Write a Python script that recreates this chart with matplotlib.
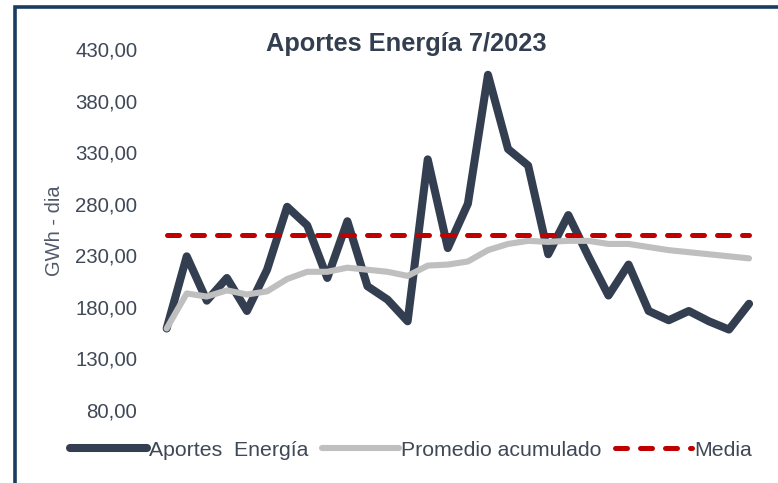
import numpy as np
import matplotlib
matplotlib.use("Agg")
import matplotlib.pyplot as plt
from matplotlib.patches import Rectangle

plt.rcParams['font.family'] = ['Liberation Sans', 'DejaVu Sans']

# daily values, July 2023 (GWh - dia)
aportes = [159, 229, 186, 208, 176, 216, 277, 259, 208, 263,
           200, 187, 166, 323, 237, 280, 405, 333, 317, 231,
           269, 229, 191, 221, 176, 167, 176, 166, 158, 183]
promedio = [159, 193, 190, 196, 192, 195, 207, 214, 214, 218,
            216, 214, 210, 220, 221, 224, 235, 241, 244, 243,
            244, 244, 241, 241, 238, 235, 233, 231, 229, 227]
media = 250
yticks = [80, 130, 180, 230, 280, 330, 380, 430]

W, H = 778, 483
fig = plt.figure(figsize=(W / 100, H / 100), dpi=100)
ax = fig.add_axes([156.6 / W, 1 - 410 / H, (759.1 - 156.6) / W, (410 - 49) / H])

x = np.arange(len(aportes))
txt = '#3E4857'

l1, = ax.plot(x, aportes, color='#333F50', lw=5.8, solid_joinstyle='round',
              solid_capstyle='round', label='Aportes  Energía', zorder=2)
l2, = ax.plot(x, promedio, color='#BFBFBF', lw=4.4, solid_joinstyle='round',
              solid_capstyle='round', label='Promedio acumulado', zorder=3)
l3, = ax.plot(x, [media] * len(x), color='#C00000', lw=3.6, dashes=(2.4, 2.6),
              dash_capstyle='round', label='Media', zorder=4)

ax.set_xlim(-0.5, len(x) - 0.5)
ax.set_ylim(80, 430)
ax.set_yticks(yticks)
ax.set_yticklabels([f'{v:.2f}'.replace('.', ',') for v in yticks],
                   fontsize=14.7, color=txt)
ax.tick_params(axis='y', length=0, pad=14)
ax.set_xticks([])
for s in ax.spines.values():
    s.set_visible(False)

fig.text(54 / W, 1 - 231 / H, 'GWh - dia', rotation=90, ha='center', va='center',
         fontsize=14.5, color='#505A68')
fig.text(406 / W, 1 - 44 / H, 'Aportes Energía 7/2023', ha='center', va='center',
         fontsize=18.3, fontweight='bold', color='#333F50')

leg = fig.legend(handles=[l1, l2, l3], loc='center', bbox_to_anchor=(411 / W, 1 - 450 / H),
                 ncol=3, frameon=False, fontsize=15.3, handlelength=3.6,
                 handletextpad=0.1, columnspacing=0.65, borderpad=0, borderaxespad=0)
for t in leg.get_texts():
    t.set_color(txt)

fig.add_artist(Rectangle((15 / W, -0.1), 1.2, 1.1 - 7.3 / H, transform=fig.transFigure,
                         fill=False, lw=2.6, edgecolor='#1A3C61'))

fig.savefig('out.png', dpi=100)
